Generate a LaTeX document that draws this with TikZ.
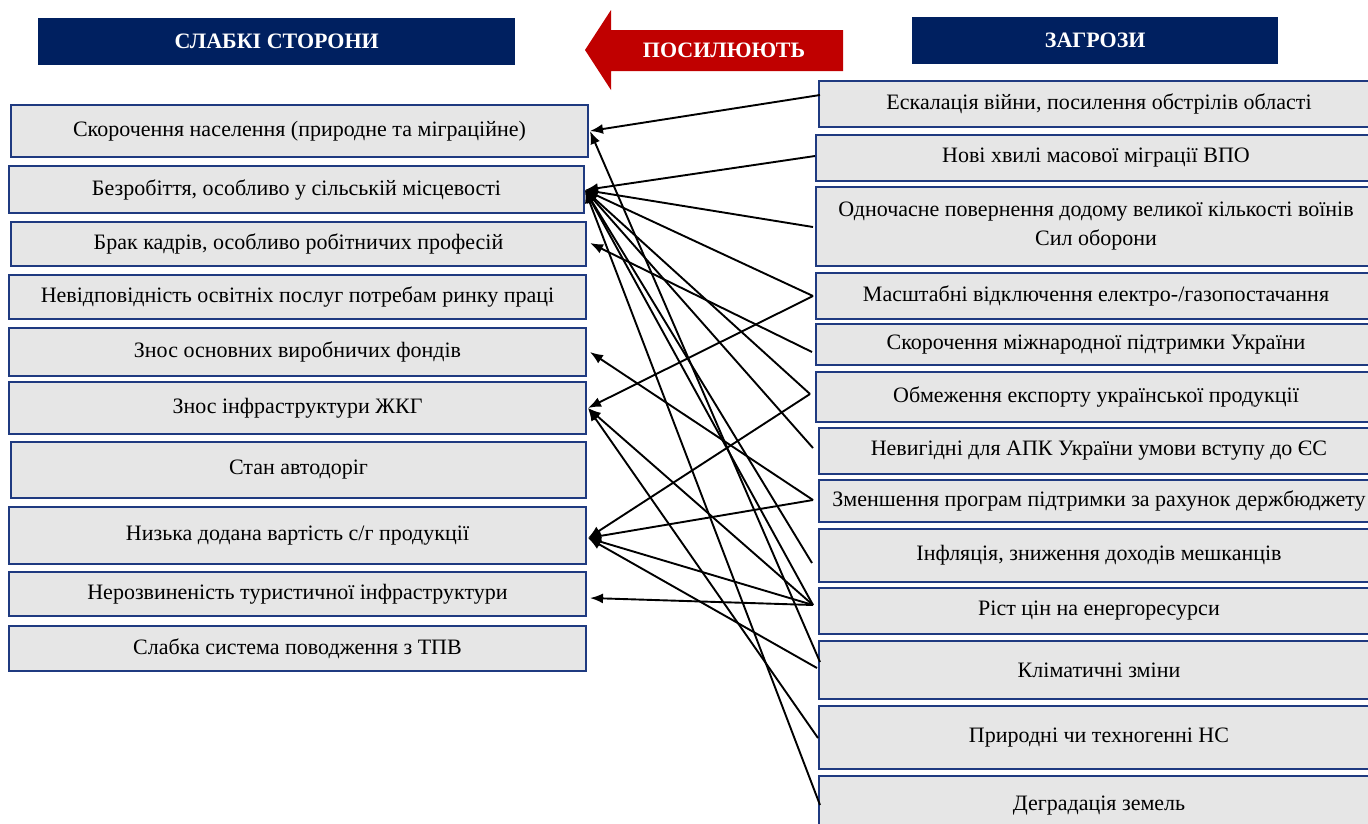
\documentclass[tikz,border=0pt]{standalone}
\usepackage{fontspec}
\setmainfont{Liberation Serif}
\usetikzlibrary{arrows.meta}
\definecolor{navy}{HTML}{002060}
\definecolor{bord}{HTML}{1F3A80}
\definecolor{boxfill}{HTML}{E6E6E6}
\definecolor{redarr}{HTML}{C00000}
\begin{document}
\begin{tikzpicture}[x=1pt,y=-1pt,
  wbox/.style={draw=bord,line width=2pt,fill=boxfill,anchor=north west,inner sep=2pt,
    font=\fontsize{22}{29}\selectfont,align=center},
  hdr/.style={fill=navy,text=white,anchor=north west,font=\bfseries\fontsize{22}{26}\selectfont},
  conn/.style={-{Latex[length=13pt,width=10pt]},line width=1.9pt}]
\useasboundingbox (0,0) rectangle (1368,823);

% headers
\node[hdr,minimum width=477pt,minimum height=47pt] (hL) at (38,18) {СЛАБКІ СТОРОНИ};
\node[hdr,minimum width=366pt,minimum height=47pt] (hR) at (912,17) {ЗАГРОЗИ};
\fill[redarr] (585,50) -- (611,10) -- (611,30) -- (843,30) -- (843,71) -- (611,71) -- (611,90) -- cycle;
\node[text=white,font=\bfseries\fontsize{22}{26}\selectfont] (pos) at (724,50) {ПОСИЛЮЮТЬ};

% left boxes
\node[wbox,minimum width=577pt,minimum height=52pt] (L1) at (10,104) {Скорочення населення (природне та міграційне)};
\node[wbox,minimum width=575pt,minimum height=47pt] (L2) at (8,165) {Безробіття, особливо у сільській місцевості};
\node[wbox,minimum width=575pt,minimum height=44pt] (L3) at (10,221) {Брак кадрів, особливо робітничих професій};
\node[wbox,minimum width=577pt,minimum height=44pt] (L4) at (8,274) {Невідповідність освітніх послуг потребам ринку праці};
\node[wbox,minimum width=577pt,minimum height=48pt] (L5) at (8,327) {Знос основних виробничих фондів};
\node[wbox,minimum width=577pt,minimum height=52pt] (L6) at (8,381) {Знос інфраструктури ЖКГ};
\node[wbox,minimum width=575pt,minimum height=56pt] (L7) at (10,441) {Стан автодоріг};
\node[wbox,minimum width=577pt,minimum height=57pt] (L8) at (8,506) {Низька додана вартість с/г продукції};
\node[wbox,minimum width=577pt,minimum height=44pt] (L9) at (8,571) {Нерозвиненість туристичної інфраструктури};
\node[wbox,minimum width=577pt,minimum height=45pt] (L10) at (8,625) {Слабка система поводження з ТПВ};

% right boxes
\node[wbox,minimum width=560pt,minimum height=46pt] (R1) at (818,80) {Ескалація війни, посилення обстрілів області};
\node[wbox,minimum width=560pt,minimum height=46pt] (R2) at (815,134) {Нові хвилі масової міграції ВПО};
\node[wbox,minimum width=560pt,minimum height=79pt] (R3) at (815,186) {Одночасне повернення додому великої кількості воїнів\\Сил оборони};
\node[wbox,minimum width=560pt,minimum height=46pt] (R4) at (815,272) {Масштабні відключення електро-/газопостачання};
\node[wbox,minimum width=560pt,minimum height=41pt] (R5) at (815,323) {Скорочення міжнародної підтримки України};
\node[wbox,minimum width=560pt,minimum height=50pt] (R6) at (815,371) {Обмеження експорту української продукції};
\node[wbox,minimum width=560pt,minimum height=46pt] (R7) at (818,427) {Невигідні для АПК України умови вступу до ЄС};
\node[wbox,minimum width=560pt,minimum height=42pt] (R8) at (818,479) {Зменшення програм підтримки за рахунок держбюджету};
\node[wbox,minimum width=560pt,minimum height=53pt] (R9) at (818,528) {Інфляція, зниження доходів мешканців};
\node[wbox,minimum width=560pt,minimum height=46pt] (R10) at (818,587) {Ріст цін на енергоресурси};
\node[wbox,minimum width=560pt,minimum height=58pt] (R11) at (818,640) {Кліматичні зміни};
\node[wbox,minimum width=560pt,minimum height=63pt] (R12) at (818,705) {Природні чи техногенні НС};
\node[wbox,minimum width=560pt,minimum height=60pt] (R13) at (818,775) {Деградація земель};

% connector ends
\coordinate (l1) at (590,131);
\coordinate (l2) at (585,190);
\coordinate (l3) at (590,243);
\coordinate (l5) at (590,352);
\coordinate (l6) at (588,408);
\coordinate (l8) at (588,538);
\coordinate (l9) at (590,598);
\coordinate (r1) at (820,95);
\coordinate (r2) at (815,156);
\coordinate (r3) at (813,227);
\coordinate (r4) at (813,296);
\coordinate (r5) at (812,352);
\coordinate (r6) at (810,394);
\coordinate (r7) at (813,448);
\coordinate (r8) at (813,500);
\coordinate (r9) at (812,563);
\coordinate (r10) at (813,605);
\coordinate (r11a) at (820,662);
\coordinate (r11b) at (817,668);
\coordinate (r12) at (818,738);
\coordinate (r13) at (820,805);

\draw[conn] (r1) -- (l1);
\draw[conn] (r2) -- (l2);
\draw[conn] (r3) -- (l2);
\draw[conn] (r4) -- (l2);
\draw[conn] (r4) -- (l6);
\draw[conn] (r5) -- (l3);
\draw[conn] (r6) -- (l2);
\draw[conn] (r6) -- (l8);
\draw[conn] (r7) -- (l2);
\draw[conn] (r8) -- (l5);
\draw[conn] (r8) -- (l8);
\draw[conn] (r9) -- (l2);
\draw[conn] (r10) -- (l9);
\draw[conn] (r10) -- (l8);
\draw[conn] (r10) -- (l6);
\draw[conn] (r10) -- (l2);
\draw[conn] (r11a) -- (l1);
\draw[conn] (r11b) -- (l8);
\draw[conn] (r12) -- (l6);
\draw[conn] (r13) -- (l2);
\end{tikzpicture}
\end{document}
